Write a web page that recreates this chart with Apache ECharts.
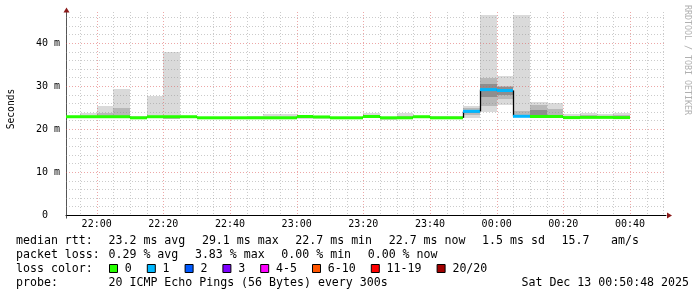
<!DOCTYPE html>
<html><head><meta charset="utf-8">
<script src="https://cdn.jsdelivr.net/npm/echarts@6/dist/echarts.min.js"></script>
<style>html,body{margin:0;padding:0;background:#fff}#c{width:697px;height:297px}</style>
</head><body><div id="c"></div>
<script>
// ---------- data ----------
const graphStart = '21:50:48';
const graphEnd = '00:50:48';
const slotMinutes = 5;
const slotStarts = ['21:50','21:55','22:00','22:05','22:10','22:15','22:20','22:25','22:30','22:35','22:40','22:45','22:50','22:55','23:00','23:05','23:10','23:15','23:20','23:25','23:30','23:35','23:40','23:45','23:50','23:55','00:00','00:05','00:10','00:15','00:20','00:25','00:30','00:35'];
const pingMin = [22.7,22.6,22.6,22.6,22.5,22.6,22.3,22.6,22.5,22.5,22.5,22.5,22.5,22.5,22.3,22.3,22.5,22.5,22.6,22.2,22.5,22.6,22.5,22.5,22.5,23.9,25.6,22.7,22.5,22.6,22.4,22.5,22.5,22.5];
const pingLo  = [22.8,22.7,22.7,22.7,22.55,22.7,22.4,22.7,22.55,22.55,22.55,22.55,22.55,22.55,22.5,22.5,22.55,22.55,22.7,22.4,22.55,22.7,22.55,22.55,23.3,25.3,26.9,22.8,22.7,22.7,22.5,22.6,22.6,22.6];
const median  = [22.85,22.85,22.85,22.85,22.6,22.85,22.85,22.85,22.6,22.6,22.6,22.6,22.6,22.6,22.9,22.8,22.6,22.6,22.9,22.6,22.6,22.85,22.6,22.6,24.1,29.15,28.95,22.95,22.9,22.9,22.65,22.7,22.7,22.65];
const pingHi  = [22.9,23.1,23.8,24.8,22.8,23.1,23.0,22.95,22.7,22.7,22.7,22.8,22.9,22.9,23.0,22.9,22.7,22.7,23.2,22.7,23.0,23.0,22.8,22.8,24.9,31.9,30.1,24.1,25.5,24.7,22.9,23.3,22.9,23.3];
const pingMax = [23.0,23.7,25.3,29.4,23.1,27.6,37.9,23.1,22.9,22.9,22.9,23.0,23.4,23.4,23.1,23.0,22.9,22.9,23.7,22.9,23.7,23.1,23.0,23.0,25.3,46.4,32.4,46.4,26.2,26.1,23.5,23.8,23.5,23.8];
const coreLo  = [null,null,null,null,null,null,null,null,null,null,null,null,null,null,null,null,null,null,null,null,null,null,null,null,23.7,27.5,28.0,null,22.8,null,null,null,null,null];
const coreHi  = [null,null,null,null,null,null,null,null,null,null,null,null,null,null,null,null,null,null,null,null,null,null,null,null,24.5,30.5,29.8,null,24.5,null,null,null,null,null];
const lossCount = [0,0,0,0,0,0,0,0,0,0,0,0,0,0,0,0,0,0,0,0,0,0,0,0,1,1,1,1,0,0,0,0,0,0];
const xTickLabels = ['22:00','22:20','22:40','23:00','23:20','23:40','00:00','00:20','00:40'];
const yTickValues = [0,10,20,30,40];
const yMax = 47.2;
const lossLegendLabels = ['0','1','2','3','4-5','6-10','11-19','20/20'];
const lossLegendColors = ['#26ff00','#00b8ff','#0059ff','#7e00ff','#ff00ff','#ff5500','#ff0000','#a10000'];
const rttStats = [23.2, 29.1, 22.7, 22.7];
const rttSd = 1.5;
const amPerS = 15.7;
const lossStats = [0.29, 3.83, 0.00, 0.00];
const probeText = '20 ICMP Echo Pings (56 Bytes) every 300s';
const stampText = 'Sat Dec 13 00:50:48 2025';

// ---------- helpers ----------
const toMin = s => { const p = s.split(':').map(Number); let m = p[0]*60 + p[1] + (p[2]||0)/60; if (p[0] < 12) m += 1440; return m; };
const fmtMin = v => { const m = Math.round(v) % 1440; const h = Math.floor(m/60), mm = m % 60; return String(h).padStart(2,'0') + ':' + String(mm).padStart(2,'0'); };
const xMin = toMin(graphStart), xMax = toMin(graphEnd);
const xTickValues = xTickLabels.map(toMin);
const lossIndex = c => c <= 3 ? c : c <= 5 ? 4 : c <= 10 ? 5 : c < 20 ? 6 : 7;
const MONO = '"DejaVu Sans Mono", monospace';

const slotData = slotStarts.map((s, i) => [toMin(s), median[i]]);

function slotX(api, i) {
  const s = Math.max(toMin(slotStarts[i]), xMin);
  const e = Math.min(toMin(slotStarts[i]) + slotMinutes, xMax);
  return [Math.round(api.coord([s, 0])[0]), Math.round(api.coord([e, 0])[0])];
}

function renderSmoke(params, api) {
  const i = params.dataIndex;
  const [x0, x1] = slotX(api, i);
  const yv = v => Math.round(api.coord([xMin, v])[1]);
  const band = (a, b, color) => ({ type: 'rect', shape: { x: x0, y: yv(b), width: x1 - x0, height: Math.max(1, yv(a) - yv(b)) }, style: { fill: color } });
  const ch = [band(pingMin[i], pingMax[i], '#dadada'), band(pingLo[i], pingHi[i], '#b8b8b8')];
  if (coreLo[i] != null) ch.push(band(coreLo[i], coreHi[i], '#8e8e8e'));
  return { type: 'group', children: ch };
}

function renderMedian(params, api) {
  const i = params.dataIndex;
  const [x0, x1] = slotX(api, i);
  const yc = api.coord([xMin, median[i]])[1];
  const ch = [];
  if (i > 0) {
    const yp = api.coord([xMin, median[i-1]])[1];
    ch.push({ type: 'line', shape: { x1: x0 + 0.5, y1: yp, x2: x0 + 0.5, y2: yc }, style: { stroke: '#000', lineWidth: 1.3 } });
  }
  ch.push({ type: 'rect', shape: { x: x0, y: yc - 1.5, width: x1 - x0, height: 3 }, style: { fill: lossLegendColors[lossIndex(lossCount[i])] } });
  return { type: 'group', children: ch };
}

function renderGrid(params, api) {
  const ch = [];
  const pL = api.coord([xMin, 0]), pR = api.coord([xMax, yMax]);
  const left = pL[0], bottom = pL[1], right = pR[0], top = pR[1];
  const crisp = v => Math.round(v) + 0.5;
  const MIN = 'rgba(140,140,140,0.45)', MAJ = 'rgba(220,80,80,0.5)';
  for (let m = Math.ceil(xMin / 5) * 5; m < xMax; m += 5) {
    const x = crisp(api.coord([m, 0])[0]);
    const major = xTickValues.indexOf(m) >= 0;
    ch.push({ type: 'line', shape: { x1: x, y1: top, x2: x, y2: bottom }, style: { stroke: major ? MAJ : MIN, lineWidth: 1, lineDash: [1, 2] } });
  }
  for (let v = 2; v < yMax; v += 2) {
    const y = crisp(api.coord([xMin, v])[1]);
    const major = yTickValues.indexOf(v) >= 0;
    ch.push({ type: 'line', shape: { x1: left, y1: y, x2: right, y2: y }, style: { stroke: major ? MAJ : MIN, lineWidth: 1, lineDash: [1, 2] } });
  }
  return { type: 'group', children: ch };
}

function renderArrows(params, api) {
  const pL = api.coord([xMin, 0]), pR = api.coord([xMax, yMax]);
  const ax = Math.round(pL[0]) + 0.5, by = Math.round(pL[1]) + 0.5;
  const top = pR[1], right = pR[0];
  const col = '#8b1a1a';
  return { type: 'group', children: [
    { type: 'polygon', shape: { points: [[ax - 3, top + 0.5], [ax + 3, top + 0.5], [ax, top - 4.5]] }, style: { fill: col } },
    { type: 'polygon', shape: { points: [[right + 1, by - 3], [right + 1, by + 3], [right + 6, by]] }, style: { fill: col } },
    { type: 'line', shape: { x1: ax, y1: by, x2: ax, y2: by + 3 }, style: { stroke: '#555', lineWidth: 1 } }
  ] };
}

// ---------- legend graphics ----------
const CW = 7.0, GAP = 16.4;
const LF = '11.6px ' + MONO;
const lineY = [241, 255, 269, 283];
const g = [];
const txt = (t, x, y, align) => g.push({ type: 'text', x: x, y: y, style: { text: t, font: LF, fill: '#000', align: align || 'left', verticalAlign: 'middle' } });
const rowItems = (items, x0, y) => { let x = x0; items.forEach(t => { txt(t, x, y); x += t.length * CW + GAP; }); return x; };
const rttText = [
  rttStats[0].toFixed(1) + ' ms avg', rttStats[1].toFixed(1) + ' ms max',
  rttStats[2].toFixed(1) + ' ms min', rttStats[3].toFixed(1) + ' ms now',
  rttSd.toFixed(1) + ' ms sd', amPerS.toFixed(1)];
txt('median rtt:', 16, lineY[0]);
rowItems(rttText, 108.5, lineY[0]);
txt('am/s', 611, lineY[0]);
txt('packet loss:', 16, lineY[1]);
const lossText = [lossStats[0].toFixed(2) + ' % avg', lossStats[1].toFixed(2) + ' % max', lossStats[2].toFixed(2) + ' % min', lossStats[3].toFixed(2) + ' % now'];
rowItems(lossText, 108.5, lineY[1]);
txt('loss color:', 16, lineY[2]);
let bx = 109;
lossLegendLabels.forEach((lab, k) => {
  g.push({ type: 'rect', shape: { x: bx + 0.5, y: lineY[2] - 4.5, width: 8, height: 8 }, style: { fill: lossLegendColors[k], stroke: '#000', lineWidth: 1 } });
  txt(lab, bx + 15.8, lineY[2]);
  bx = bx + 15.8 + lab.length * CW + 15;
});
txt('probe:', 16, lineY[3]);
txt(probeText, 108.5, lineY[3]);
txt(stampText, 689, lineY[3], 'right');
g.push({ type: 'text', x: 11, y: 109, rotation: Math.PI / 2, style: { text: 'Seconds', font: '9.6px ' + MONO, fill: '#000', align: 'center', verticalAlign: 'middle' } });
g.push({ type: 'text', x: 687, y: 60, rotation: -Math.PI / 2, style: { text: 'RRDTOOL / TOBI OETIKER', font: '8.3px ' + MONO, fill: '#b0b0b0', align: 'center', verticalAlign: 'middle' } });

// ---------- chart ----------
const chart = echarts.init(document.getElementById('c'), null, { renderer: 'canvas' });
chart.setOption({
  animation: false,
  backgroundColor: '#ffffff',
  grid: { left: 66, right: 31, top: 12, bottom: 82, containLabel: false },
  xAxis: {
    type: 'value', min: xMin, max: xMax,
    axisLine: { show: true, onZero: false, lineStyle: { color: '#000', width: 1 } },
    axisTick: { show: false },
    splitLine: { show: false },
    axisLabel: { customValues: xTickValues, formatter: v => fmtMin(v), fontFamily: 'DejaVu Sans Mono', fontSize: 10, color: '#000', margin: 4 }
  },
  yAxis: {
    type: 'value', min: 0, max: yMax,
    axisLine: { show: true, onZero: false, lineStyle: { color: '#555', width: 1 } },
    axisTick: { show: false },
    splitLine: { show: false },
    axisLabel: { customValues: yTickValues, formatter: v => v === 0 ? '0  ' : v + ' m', fontFamily: 'DejaVu Sans Mono', fontSize: 10, color: '#000', margin: 6 }
  },
  series: [
    { type: 'custom', name: 'smoke', z: 2, clip: false, renderItem: renderSmoke, data: slotData, encode: { x: 0, y: 1 } },
    { type: 'custom', name: 'grid', z: 3, clip: false, renderItem: renderGrid, data: [[xMin, 0]], encode: { x: 0, y: 1 }, silent: true },
    { type: 'custom', name: 'median', z: 4, clip: false, renderItem: renderMedian, data: slotData, encode: { x: 0, y: 1 } },
    { type: 'custom', name: 'arrows', z: 5, clip: false, renderItem: renderArrows, data: [[xMin, 0]], encode: { x: 0, y: 1 }, silent: true }
  ],
  graphic: g
});
</script>
</body></html>
